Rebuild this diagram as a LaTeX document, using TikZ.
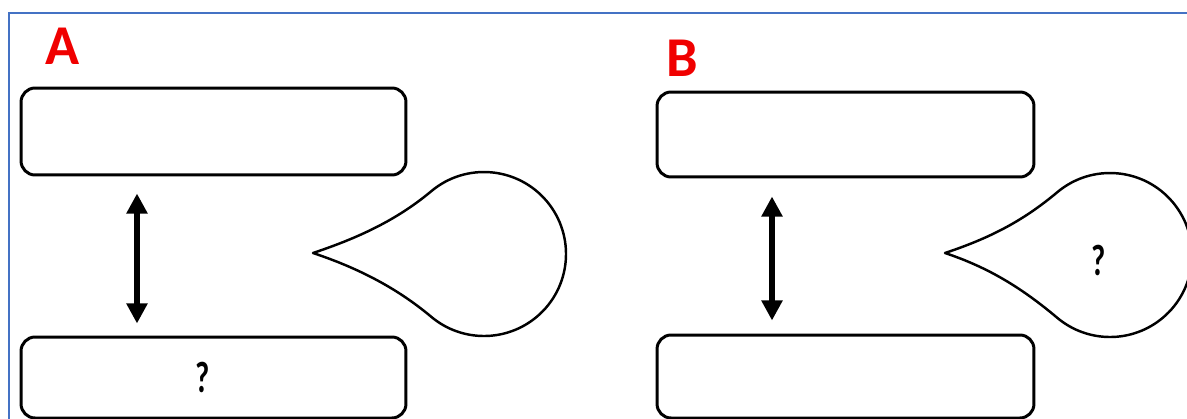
\documentclass[tikz,border=0pt]{standalone}
\usepackage{fontspec}
\setmainfont{Carlito}
\usetikzlibrary{arrows.meta}
\definecolor{frameblue}{RGB}{68,114,196}
\definecolor{labred}{RGB}{240,0,0}
\tikzset{
  box/.style={draw=black, line width=1.7pt, rounded corners=8pt, inner sep=0pt},
  dbl/.style={line width=3pt, {Triangle[width=11.5pt,length=11.5pt]}-{Triangle[width=11.5pt,length=11.5pt]}},
  drop/.style={draw=black, line width=1.4pt, line join=round},
  lab/.style={text=labred, font=\fontsize{32}{32}\selectfont\bfseries, inner sep=0pt},
  qmark/.style={font=\fontsize{25}{25}\selectfont\bfseries, inner sep=0pt}
}
\begin{document}
\begin{tikzpicture}[x=0.02cm, y=-0.02cm]
\useasboundingbox (0,0) rectangle (1187,419);
\clip (0,0) rectangle (1187,419);
\fill[white] (0,0) rectangle (1187,419);
% frame
\draw[frameblue, line width=1.1pt] (9,13) rectangle (1200,440);
% labels
\node[lab] (la) at (63,46) {A};
\node[lab] (lb) at (682,58) {B};
% boxes A
\node[box, minimum width=7.7cm, minimum height=1.74cm] (a1) at (213.5,131.5) {};
\node[box, minimum width=7.7cm, minimum height=1.62cm] (a2) at (213.5,377.5) {};
\node[qmark] (qa) at (202.5,377) {\scalebox{0.7}[1]{?}};
% boxes B
\node[box, minimum width=7.54cm, minimum height=1.70cm] (b1) at (845.5,134.5) {};
\node[box, minimum width=7.54cm, minimum height=1.66cm] (b2) at (845.5,376.5) {};
% arrows
\coordinate (ax) at (137,0);
\coordinate (bx) at (772,0);
\draw[dbl, shorten <=0.34cm, shorten >=0.24cm] (a1.south -| ax) -- (a2.north -| ax);
\draw[dbl, shorten <=0.36cm, shorten >=0.26cm] (b1.south -| bx) -- (b2.north -| bx);
% teardrop A
\draw[drop] (313,253) .. controls (358,238) and (396.8,220.1) .. (431.3,191.2)
  arc[start angle=-130, end angle=130, radius=82]
  .. controls (396.8,287.9) and (358,268) .. cycle;
% teardrop B
\draw[drop] (945,253) .. controls (990,238) and (1022.8,221.1) .. (1057.3,192.2)
  arc[start angle=-130, end angle=130, radius=82]
  .. controls (1022.8,288.9) and (990,268) .. cycle;
\node[qmark] (qb) at (1099,260) {\scalebox{0.7}[1]{?}};
\end{tikzpicture}
\end{document}
